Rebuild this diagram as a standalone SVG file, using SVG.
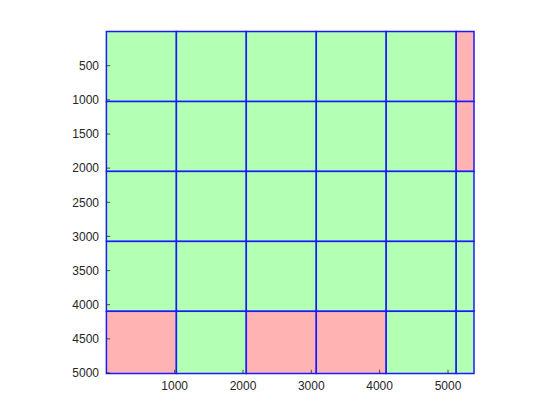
<svg xmlns="http://www.w3.org/2000/svg" width="560" height="420" viewBox="0 0 560 420">
<style>
.g{fill:#b3ffb3;stroke:#1a1aff;stroke-width:1.5}
.r{fill:#ffb3b3;stroke:#1a1aff;stroke-width:1.5}
.t{stroke:#262626;stroke-width:0.8}
.yl{font-family:"Liberation Sans",Arial,sans-serif;font-size:12px;fill:#262626;text-anchor:end}
.xl{font-family:"Liberation Sans",Arial,sans-serif;font-size:12px;fill:#262626;text-anchor:middle}
</style>
<rect width="560" height="420" fill="#ffffff"/>
<g id="cells">
<rect class="g" x="106.4" y="31.5" width="70" height="70"/>
<rect class="g" x="176.4" y="31.5" width="69.9" height="70"/>
<rect class="g" x="246.3" y="31.5" width="70" height="70"/>
<rect class="g" x="316.3" y="31.5" width="69.9" height="70"/>
<rect class="g" x="386.2" y="31.5" width="70" height="70"/>
<rect class="r" x="456.2" y="31.5" width="17.8" height="70"/>
<rect class="g" x="106.4" y="101.5" width="70" height="69.9"/>
<rect class="g" x="176.4" y="101.5" width="69.9" height="69.9"/>
<rect class="g" x="246.3" y="101.5" width="70" height="69.9"/>
<rect class="g" x="316.3" y="101.5" width="69.9" height="69.9"/>
<rect class="g" x="386.2" y="101.5" width="70" height="69.9"/>
<rect class="r" x="456.2" y="101.5" width="17.8" height="69.9"/>
<rect class="g" x="106.4" y="171.4" width="70" height="70"/>
<rect class="g" x="176.4" y="171.4" width="69.9" height="70"/>
<rect class="g" x="246.3" y="171.4" width="70" height="70"/>
<rect class="g" x="316.3" y="171.4" width="69.9" height="70"/>
<rect class="g" x="386.2" y="171.4" width="70" height="70"/>
<rect class="g" x="456.2" y="171.4" width="17.8" height="70"/>
<rect class="g" x="106.4" y="241.4" width="70" height="69.9"/>
<rect class="g" x="176.4" y="241.4" width="69.9" height="69.9"/>
<rect class="g" x="246.3" y="241.4" width="70" height="69.9"/>
<rect class="g" x="316.3" y="241.4" width="69.9" height="69.9"/>
<rect class="g" x="386.2" y="241.4" width="70" height="69.9"/>
<rect class="g" x="456.2" y="241.4" width="17.8" height="69.9"/>
<rect class="r" x="106.4" y="311.3" width="70" height="62.2"/>
<rect class="g" x="176.4" y="311.3" width="69.9" height="62.2"/>
<rect class="r" x="246.3" y="311.3" width="70" height="62.2"/>
<rect class="r" x="316.3" y="311.3" width="69.9" height="62.2"/>
<rect class="g" x="386.2" y="311.3" width="70" height="62.2"/>
<rect class="g" x="456.2" y="311.3" width="17.8" height="62.2"/>
</g>
<g id="ticks">
<path class="t" d="M174.7 373.5v-3.7M243 373.5v-3.7M311.3 373.5v-3.7M379.6 373.5v-3.7M448 373.5v-3.7"/>
<path class="t" d="M106.4 65.7h3.7M106.4 99.8h3.7M106.4 134h3.7M106.4 168.1h3.7M106.4 202.3h3.7M106.4 236.4h3.7M106.4 270.6h3.7M106.4 304.7h3.7M106.4 338.9h3.7M106.4 373h3.7"/>
</g>
<g id="labels">
<text class="yl" x="99" y="70">500</text>
<text class="yl" x="99" y="104.1">1000</text>
<text class="yl" x="99" y="138.3">1500</text>
<text class="yl" x="99" y="172.4">2000</text>
<text class="yl" x="99" y="206.6">2500</text>
<text class="yl" x="99" y="240.7">3000</text>
<text class="yl" x="99" y="274.9">3500</text>
<text class="yl" x="99" y="309">4000</text>
<text class="yl" x="99" y="343.2">4500</text>
<text class="yl" x="99" y="377.3">5000</text>
<text class="xl" x="174.7" y="390">1000</text>
<text class="xl" x="243" y="390">2000</text>
<text class="xl" x="311.3" y="390">3000</text>
<text class="xl" x="379.6" y="390">4000</text>
<text class="xl" x="448" y="390">5000</text>
</g>
</svg>
